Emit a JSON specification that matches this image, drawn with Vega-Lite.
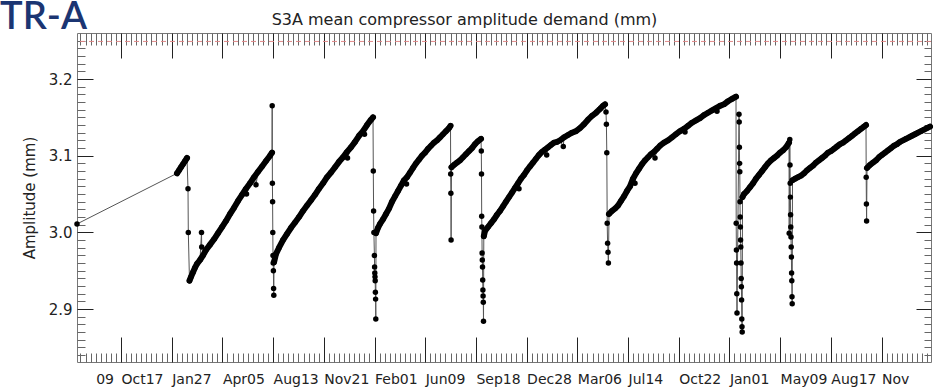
{
  "$schema": "https://vega.github.io/schema/vega-lite/v6.json",
  "width": 854,
  "height": 329,
  "autosize": {"type": "none"},
  "padding": {"left": 77, "top": 33, "right": 8, "bottom": 28},
  "background": "white",
  "config": {
    "view": {"stroke": "#777", "strokeWidth": 1},
    "axis": {"grid": false, "domain": false, "labelFont": "DejaVu Sans", "titleFont": "DejaVu Sans", "labelColor": "#222", "titleColor": "#222", "labelFontSize": 14, "titleFontSize": 15, "titleFontWeight": "normal"}
  },
  "data": {"values": [
    {"d":0,"v":3.011,"s":0,"k":0},
    {"d":100,"v":3.077,"s":0,"k":1},{"d":102,"v":3.081,"s":0,"k":1},{"d":104,"v":3.085,"s":0,"k":1},{"d":106,"v":3.089,"s":0,"k":1},{"d":108,"v":3.093,"s":0,"k":1},{"d":110,"v":3.097,"s":0,"k":1},
    {"d":111,"v":3.057,"s":0,"k":0},{"d":111.3,"v":3.0,"s":0,"k":0},
    {"d":112.5,"v":2.937,"s":1,"k":1},{"d":114,"v":2.942,"s":1,"k":1},{"d":116,"v":2.948,"s":1,"k":1},{"d":118,"v":2.954,"s":1,"k":1},{"d":120,"v":2.959,"s":1,"k":1},{"d":123,"v":2.964,"s":1,"k":1},
    {"d":124.5,"v":3.0,"s":1,"k":0},{"d":124.7,"v":2.981,"s":1,"k":0},
    {"d":126,"v":2.970,"s":1,"k":1},{"d":129,"v":2.977,"s":1,"k":1},{"d":133,"v":2.984,"s":1,"k":1},{"d":137,"v":2.991,"s":1,"k":1},{"d":141,"v":2.999,"s":1,"k":1},{"d":145,"v":3.007,"s":1,"k":1},{"d":149,"v":3.015,"s":1,"k":1},{"d":153,"v":3.024,"s":1,"k":1},{"d":157,"v":3.032,"s":1,"k":1},{"d":161,"v":3.041,"s":1,"k":1},{"d":165,"v":3.049,"s":1,"k":1},{"d":169,"v":3.057,"s":1,"k":1},
    {"d":169.5,"v":3.050,"s":1,"k":0},
    {"d":173,"v":3.064,"s":1,"k":1},{"d":177,"v":3.072,"s":1,"k":1},
    {"d":179,"v":3.062,"s":1,"k":0},
    {"d":181,"v":3.079,"s":1,"k":1},{"d":185,"v":3.086,"s":1,"k":1},{"d":189,"v":3.093,"s":1,"k":1},{"d":193,"v":3.100,"s":1,"k":1},{"d":195,"v":3.104,"s":1,"k":1},
    {"d":195.2,"v":3.165,"s":1,"k":0},{"d":195.4,"v":3.064,"s":1,"k":0},{"d":195.6,"v":3.040,"s":1,"k":0},{"d":195.8,"v":3.0,"s":1,"k":0},{"d":196.0,"v":2.970,"s":1,"k":0},{"d":196.2,"v":2.960,"s":1,"k":0},{"d":196.4,"v":2.950,"s":1,"k":0},{"d":196.6,"v":2.927,"s":1,"k":0},{"d":196.8,"v":2.918,"s":1,"k":0},
    {"d":197,"v":2.961,"s":2,"k":1},{"d":199,"v":2.972,"s":2,"k":1},{"d":202,"v":2.980,"s":2,"k":1},{"d":206,"v":2.990,"s":2,"k":1},{"d":210,"v":2.998,"s":2,"k":1},{"d":214,"v":3.006,"s":2,"k":1},{"d":218,"v":3.013,"s":2,"k":1},{"d":222,"v":3.020,"s":2,"k":1},{"d":226,"v":3.028,"s":2,"k":1},{"d":230,"v":3.035,"s":2,"k":1},{"d":234,"v":3.042,"s":2,"k":1},{"d":238,"v":3.049,"s":2,"k":1},{"d":242,"v":3.057,"s":2,"k":1},{"d":246,"v":3.064,"s":2,"k":1},{"d":250,"v":3.072,"s":2,"k":1},{"d":254,"v":3.078,"s":2,"k":1},{"d":258,"v":3.085,"s":2,"k":1},{"d":262,"v":3.092,"s":2,"k":1},{"d":266,"v":3.098,"s":2,"k":1},{"d":270,"v":3.105,"s":2,"k":1},
    {"d":270.5,"v":3.097,"s":2,"k":0},
    {"d":274,"v":3.111,"s":2,"k":1},{"d":278,"v":3.118,"s":2,"k":1},{"d":282,"v":3.126,"s":2,"k":1},{"d":286,"v":3.132,"s":2,"k":1},
    {"d":287.5,"v":3.128,"s":2,"k":0},
    {"d":290,"v":3.140,"s":2,"k":1},{"d":294,"v":3.147,"s":2,"k":1},{"d":296,"v":3.150,"s":2,"k":1},
    {"d":296.3,"v":3.080,"s":2,"k":0},{"d":296.6,"v":3.028,"s":2,"k":0},{"d":296.9,"v":3.0,"s":2,"k":0},{"d":297.4,"v":2.970,"s":2,"k":0},{"d":297.6,"v":2.955,"s":2,"k":0},{"d":297.8,"v":2.947,"s":2,"k":0},{"d":298.0,"v":2.942,"s":2,"k":0},{"d":298.2,"v":2.937,"s":2,"k":0},{"d":298.4,"v":2.922,"s":2,"k":0},{"d":298.6,"v":2.913,"s":2,"k":0},{"d":298.8,"v":2.887,"s":2,"k":0},
    {"d":299,"v":2.999,"s":3,"k":1},{"d":301,"v":3.006,"s":3,"k":1},{"d":303,"v":3.011,"s":3,"k":1},{"d":306,"v":3.017,"s":3,"k":1},{"d":309,"v":3.024,"s":3,"k":1},{"d":312,"v":3.031,"s":3,"k":1},{"d":315,"v":3.040,"s":3,"k":1},{"d":318,"v":3.047,"s":3,"k":1},{"d":321,"v":3.054,"s":3,"k":1},{"d":324,"v":3.061,"s":3,"k":1},{"d":327,"v":3.068,"s":3,"k":1},
    {"d":329.5,"v":3.063,"s":3,"k":0},
    {"d":330,"v":3.072,"s":3,"k":1},{"d":333,"v":3.078,"s":3,"k":1},{"d":336,"v":3.084,"s":3,"k":1},{"d":339,"v":3.090,"s":3,"k":1},{"d":342,"v":3.095,"s":3,"k":1},{"d":345,"v":3.100,"s":3,"k":1},{"d":348,"v":3.104,"s":3,"k":1},{"d":351,"v":3.109,"s":3,"k":1},{"d":354,"v":3.113,"s":3,"k":1},{"d":357,"v":3.117,"s":3,"k":1},{"d":360,"v":3.120,"s":3,"k":1},{"d":363,"v":3.124,"s":3,"k":1},{"d":366,"v":3.128,"s":3,"k":1},{"d":369,"v":3.132,"s":3,"k":1},{"d":372,"v":3.136,"s":3,"k":1},{"d":373.5,"v":3.139,"s":3,"k":1},
    {"d":373.7,"v":3.076,"s":3,"k":0},{"d":373.9,"v":3.051,"s":3,"k":0},{"d":374.1,"v":2.990,"s":3,"k":0},
    {"d":374.5,"v":3.085,"s":4,"k":1},{"d":377,"v":3.088,"s":4,"k":1},{"d":380,"v":3.091,"s":4,"k":1},{"d":383,"v":3.094,"s":4,"k":1},{"d":386,"v":3.098,"s":4,"k":1},{"d":389,"v":3.102,"s":4,"k":1},{"d":392,"v":3.106,"s":4,"k":1},{"d":395,"v":3.110,"s":4,"k":1},{"d":398,"v":3.115,"s":4,"k":1},{"d":401,"v":3.119,"s":4,"k":1},{"d":404,"v":3.122,"s":4,"k":1},
    {"d":404.3,"v":3.106,"s":4,"k":0},{"d":404.5,"v":3.076,"s":4,"k":0},{"d":404.7,"v":3.021,"s":4,"k":0},{"d":404.9,"v":3.007,"s":4,"k":0},{"d":405.1,"v":2.973,"s":4,"k":0},{"d":405.3,"v":2.964,"s":4,"k":0},{"d":405.5,"v":2.955,"s":4,"k":0},{"d":405.7,"v":2.938,"s":4,"k":0},{"d":405.9,"v":2.925,"s":4,"k":0},{"d":406.1,"v":2.917,"s":4,"k":0},{"d":406.3,"v":2.909,"s":4,"k":0},{"d":406.5,"v":2.884,"s":4,"k":0},
    {"d":406.8,"v":2.995,"s":5,"k":1},{"d":408,"v":3.002,"s":5,"k":1},{"d":411,"v":3.007,"s":5,"k":1},{"d":414,"v":3.012,"s":5,"k":1},{"d":417,"v":3.017,"s":5,"k":1},{"d":420,"v":3.023,"s":5,"k":1},{"d":423,"v":3.028,"s":5,"k":1},{"d":426,"v":3.034,"s":5,"k":1},{"d":429,"v":3.040,"s":5,"k":1},{"d":432,"v":3.046,"s":5,"k":1},{"d":435,"v":3.052,"s":5,"k":1},{"d":438,"v":3.058,"s":5,"k":1},{"d":441,"v":3.064,"s":5,"k":1},
    {"d":442,"v":3.057,"s":5,"k":0},
    {"d":444,"v":3.070,"s":5,"k":1},{"d":447,"v":3.075,"s":5,"k":1},{"d":450,"v":3.081,"s":5,"k":1},{"d":453,"v":3.086,"s":5,"k":1},{"d":456,"v":3.091,"s":5,"k":1},{"d":459,"v":3.096,"s":5,"k":1},{"d":462,"v":3.101,"s":5,"k":1},{"d":465,"v":3.105,"s":5,"k":1},{"d":468,"v":3.108,"s":5,"k":1},
    {"d":469.7,"v":3.101,"s":5,"k":0},
    {"d":471,"v":3.111,"s":5,"k":1},{"d":474,"v":3.114,"s":5,"k":1},{"d":477,"v":3.117,"s":5,"k":1},{"d":480,"v":3.118,"s":5,"k":1},{"d":483,"v":3.120,"s":5,"k":1},
    {"d":486.3,"v":3.112,"s":5,"k":0},
    {"d":487,"v":3.124,"s":5,"k":1},{"d":491,"v":3.127,"s":5,"k":1},{"d":495,"v":3.130,"s":5,"k":1},{"d":499,"v":3.132,"s":5,"k":1},{"d":503,"v":3.136,"s":5,"k":1},{"d":507,"v":3.141,"s":5,"k":1},{"d":511,"v":3.147,"s":5,"k":1},{"d":515,"v":3.152,"s":5,"k":1},{"d":519,"v":3.156,"s":5,"k":1},{"d":523,"v":3.161,"s":5,"k":1},{"d":526,"v":3.165,"s":5,"k":1},{"d":528,"v":3.167,"s":5,"k":1},
    {"d":529,"v":3.157,"s":5,"k":0},{"d":529.4,"v":3.141,"s":5,"k":0},{"d":529.8,"v":3.104,"s":5,"k":0},{"d":530.2,"v":3.012,"s":5,"k":0},{"d":530.6,"v":2.986,"s":5,"k":0},{"d":531,"v":2.974,"s":5,"k":0},{"d":531.4,"v":2.960,"s":5,"k":0},
    {"d":532,"v":3.024,"s":6,"k":1},{"d":535,"v":3.028,"s":6,"k":1},{"d":538,"v":3.031,"s":6,"k":1},{"d":541,"v":3.035,"s":6,"k":1},{"d":544,"v":3.041,"s":6,"k":1},{"d":547,"v":3.047,"s":6,"k":1},{"d":550,"v":3.054,"s":6,"k":1},{"d":553,"v":3.060,"s":6,"k":1},{"d":556,"v":3.070,"s":6,"k":1},
    {"d":558,"v":3.064,"s":6,"k":0},
    {"d":559,"v":3.077,"s":6,"k":1},{"d":562,"v":3.083,"s":6,"k":1},{"d":565,"v":3.089,"s":6,"k":1},{"d":568,"v":3.094,"s":6,"k":1},{"d":571,"v":3.098,"s":6,"k":1},{"d":574,"v":3.102,"s":6,"k":1},{"d":577,"v":3.105,"s":6,"k":1},
    {"d":578,"v":3.097,"s":6,"k":0},
    {"d":580,"v":3.109,"s":6,"k":1},{"d":583,"v":3.113,"s":6,"k":1},{"d":587,"v":3.117,"s":6,"k":1},{"d":591,"v":3.120,"s":6,"k":1},{"d":595,"v":3.124,"s":6,"k":1},{"d":599,"v":3.128,"s":6,"k":1},{"d":603,"v":3.132,"s":6,"k":1},{"d":607,"v":3.135,"s":6,"k":1},
    {"d":608,"v":3.131,"s":6,"k":0},
    {"d":611,"v":3.139,"s":6,"k":1},{"d":615,"v":3.143,"s":6,"k":1},{"d":619,"v":3.146,"s":6,"k":1},{"d":623,"v":3.149,"s":6,"k":1},{"d":627,"v":3.153,"s":6,"k":1},{"d":631,"v":3.156,"s":6,"k":1},{"d":635,"v":3.159,"s":6,"k":1},{"d":639,"v":3.162,"s":6,"k":1},
    {"d":640,"v":3.158,"s":6,"k":0},
    {"d":643,"v":3.165,"s":6,"k":1},{"d":647,"v":3.167,"s":6,"k":1},{"d":651,"v":3.171,"s":6,"k":1},{"d":655,"v":3.174,"s":6,"k":1},{"d":659,"v":3.177,"s":6,"k":1},
    {"d":659.2,"v":3.012,"s":6,"k":0},{"d":659.4,"v":2.977,"s":6,"k":0},{"d":659.6,"v":2.960,"s":6,"k":0},{"d":659.8,"v":2.920,"s":6,"k":0},{"d":660,"v":2.895,"s":6,"k":0},
    {"d":662,"v":3.154,"s":6,"k":0},{"d":662.2,"v":3.144,"s":6,"k":0},{"d":662.4,"v":3.111,"s":6,"k":0},{"d":662.6,"v":3.090,"s":6,"k":0},{"d":662.8,"v":3.079,"s":6,"k":0},{"d":663,"v":3.040,"s":6,"k":0},{"d":663.2,"v":3.020,"s":6,"k":0},{"d":663.4,"v":3.007,"s":6,"k":0},{"d":663.6,"v":2.990,"s":6,"k":0},{"d":663.8,"v":2.981,"s":6,"k":0},{"d":664,"v":2.960,"s":6,"k":0},{"d":664.2,"v":2.940,"s":6,"k":0},{"d":664.4,"v":2.929,"s":6,"k":0},{"d":664.6,"v":2.912,"s":6,"k":0},{"d":664.8,"v":2.887,"s":6,"k":0},{"d":665,"v":2.877,"s":6,"k":0},{"d":665.2,"v":2.870,"s":6,"k":0},
    {"d":665.5,"v":3.046,"s":7,"k":1},{"d":667,"v":3.050,"s":7,"k":1},{"d":670,"v":3.054,"s":7,"k":1},{"d":673,"v":3.059,"s":7,"k":1},{"d":676,"v":3.064,"s":7,"k":1},{"d":679,"v":3.070,"s":7,"k":1},{"d":682,"v":3.075,"s":7,"k":1},{"d":685,"v":3.080,"s":7,"k":1},{"d":688,"v":3.085,"s":7,"k":1},{"d":691,"v":3.090,"s":7,"k":1},{"d":694,"v":3.094,"s":7,"k":1},{"d":697,"v":3.097,"s":7,"k":1},{"d":700,"v":3.100,"s":7,"k":1},{"d":703,"v":3.104,"s":7,"k":1},{"d":706,"v":3.107,"s":7,"k":1},{"d":709,"v":3.111,"s":7,"k":1},{"d":712,"v":3.117,"s":7,"k":1},
    {"d":712.2,"v":2.999,"s":7,"k":0},{"d":712.8,"v":3.121,"s":7,"k":0},{"d":713,"v":3.088,"s":7,"k":0},{"d":713.2,"v":3.064,"s":7,"k":0},{"d":713.4,"v":3.046,"s":7,"k":0},{"d":713.6,"v":3.023,"s":7,"k":0},{"d":713.8,"v":3.007,"s":7,"k":0},{"d":714,"v":2.994,"s":7,"k":0},{"d":714.2,"v":2.981,"s":7,"k":0},{"d":714.4,"v":2.968,"s":7,"k":0},{"d":714.6,"v":2.947,"s":7,"k":0},{"d":714.8,"v":2.937,"s":7,"k":0},{"d":715,"v":2.916,"s":7,"k":0},{"d":715.2,"v":2.907,"s":7,"k":0},
    {"d":715.5,"v":3.068,"s":8,"k":1},{"d":718,"v":3.070,"s":8,"k":1},{"d":721,"v":3.072,"s":8,"k":1},{"d":724,"v":3.074,"s":8,"k":1},{"d":727,"v":3.077,"s":8,"k":1},{"d":730,"v":3.081,"s":8,"k":1},{"d":733,"v":3.084,"s":8,"k":1},{"d":736,"v":3.087,"s":8,"k":1},{"d":739,"v":3.091,"s":8,"k":1},{"d":742,"v":3.094,"s":8,"k":1},{"d":745,"v":3.097,"s":8,"k":1},{"d":748,"v":3.100,"s":8,"k":1},{"d":751,"v":3.104,"s":8,"k":1},{"d":754,"v":3.106,"s":8,"k":1},{"d":757,"v":3.109,"s":8,"k":1},{"d":760,"v":3.112,"s":8,"k":1},{"d":763,"v":3.115,"s":8,"k":1},{"d":766,"v":3.117,"s":8,"k":1},{"d":769,"v":3.120,"s":8,"k":1},{"d":772,"v":3.123,"s":8,"k":1},{"d":775,"v":3.126,"s":8,"k":1},{"d":778,"v":3.129,"s":8,"k":1},{"d":781,"v":3.132,"s":8,"k":1},{"d":784,"v":3.135,"s":8,"k":1},{"d":787,"v":3.138,"s":8,"k":1},{"d":789,"v":3.140,"s":8,"k":1},
    {"d":789.2,"v":3.072,"s":8,"k":0},{"d":789.4,"v":3.037,"s":8,"k":0},{"d":789.6,"v":3.015,"s":8,"k":0},
    {"d":790,"v":3.084,"s":9,"k":1},{"d":793,"v":3.088,"s":9,"k":1},{"d":796,"v":3.091,"s":9,"k":1},{"d":799,"v":3.094,"s":9,"k":1},{"d":802,"v":3.098,"s":9,"k":1},{"d":805,"v":3.101,"s":9,"k":1},{"d":808,"v":3.104,"s":9,"k":1},{"d":811,"v":3.107,"s":9,"k":1},{"d":814,"v":3.110,"s":9,"k":1},{"d":817,"v":3.113,"s":9,"k":1},{"d":820,"v":3.115,"s":9,"k":1},{"d":823,"v":3.118,"s":9,"k":1},{"d":826,"v":3.120,"s":9,"k":1},{"d":829,"v":3.122,"s":9,"k":1},{"d":832,"v":3.124,"s":9,"k":1},{"d":835,"v":3.126,"s":9,"k":1},{"d":838,"v":3.128,"s":9,"k":1},{"d":841,"v":3.130,"s":9,"k":1},{"d":844,"v":3.132,"s":9,"k":1},{"d":847,"v":3.134,"s":9,"k":1},{"d":850,"v":3.136,"s":9,"k":1},{"d":853,"v":3.138,"s":9,"k":1}
  ]},
  "layer": [
    {
      "mark": {"type": "line", "strokeWidth": 1, "color": "#555"},
      "encoding": {
        "x": {"field": "d", "type": "quantitative", "scale": {"domain": [0, 854], "nice": false, "zero": false},
          "axis": {"orient": "bottom", "values": [18.65, 44, 94.7, 145.4, 196.1, 246.8, 297.5, 348.2, 398.9, 449.6, 500.3, 551.0, 601.7, 652.4, 703.1, 753.8, 804.5], "ticks": false, "labelAlign": "left", "labelPadding": 10, "labelOverlap": false, "labelFlush": false, "labelBound": false, "title": null,
            "labelExpr": "datum.value < 30 ? '09' : ['Oct17','Jan27','Apr05','Aug13','Nov21','Feb01','Jun09','Sep18','Dec28','Mar06','Jul14','Oct22','Jan01','May09','Aug17','Nov'][round((datum.value - 44) / 50.7)]"}},
        "y": {"field": "v", "type": "quantitative", "scale": {"domain": [2.831, 3.26], "nice": false, "zero": false},
          "axis": {"orient": "left", "values": [2.9, 3.0, 3.1, 3.2], "ticks": false, "labelPadding": 5, "labelFontSize": 15, "format": ".1f", "title": "Amplitude (mm)", "titlePadding": 11}}
      }
    },
    {
      "transform": [{"filter": "datum.k == 1"}],
      "mark": {"type": "line", "strokeWidth": 6, "color": "black", "strokeCap": "round", "strokeJoin": "round"},
      "encoding": {
        "detail": {"field": "s", "type": "nominal"},
        "x": {"field": "d", "type": "quantitative", "scale": {"domain": [0, 854], "nice": false, "zero": false},
          "axis": {"orient": "bottom", "values": {"expr": "sequence(3.44, 855, 5.07)"}, "labels": false, "title": null,
            "tickSize": {"condition": {"test": "abs((datum.value - 44) / 50.7 - round((datum.value - 44) / 50.7)) < 0.01", "value": -25}, "value": -9},
            "tickColor": {"condition": {"test": "abs((datum.value - 44) / 50.7 - round((datum.value - 44) / 50.7)) < 0.01", "value": "#222"}, "value": "#666"}}},
        "y": {"field": "v", "type": "quantitative", "scale": {"domain": [2.831, 3.26], "nice": false, "zero": false},
          "axis": {"orient": "left", "values": {"expr": "sequence(2.84, 3.255, 0.01)"}, "labels": false, "title": null,
            "tickSize": {"condition": {"test": "abs(datum.value * 10 - round(datum.value * 10)) < 0.01", "value": -16}, "value": -8},
            "tickColor": {"condition": {"test": "abs(datum.value * 10 - round(datum.value * 10)) < 0.01", "value": "#222"}, "value": "#666"}}}
      }
    },
    {
      "mark": {"type": "circle", "size": 30, "color": "black", "opacity": 1},
      "encoding": {
        "x": {"field": "d", "type": "quantitative", "scale": {"domain": [0, 854], "nice": false, "zero": false},
          "axis": {"orient": "top", "values": {"expr": "sequence(3.44, 855, 5.07)"}, "labels": false, "title": null,
            "tickSize": {"condition": {"test": "abs((datum.value - 44) / 50.7 - round((datum.value - 44) / 50.7)) < 0.01", "value": -25}, "value": -12},
            "tickColor": {"condition": {"test": "abs((datum.value - 44) / 50.7 - round((datum.value - 44) / 50.7)) < 0.01", "value": "#222"}, "value": "#666"}}},
        "y": {"field": "v", "type": "quantitative", "scale": {"domain": [2.831, 3.26], "nice": false, "zero": false},
          "axis": {"orient": "right", "values": {"expr": "sequence(2.84, 3.255, 0.01)"}, "labels": false, "title": null,
            "tickSize": {"condition": {"test": "abs(datum.value * 10 - round(datum.value * 10)) < 0.01", "value": -15}, "value": -7},
            "tickColor": {"condition": {"test": "abs(datum.value * 10 - round(datum.value * 10)) < 0.01", "value": "#222"}, "value": "#666"}}}
      }
    },
    {
      "data": {"values": [{}]},
      "mark": {"type": "rule", "color": "#e08888", "strokeWidth": 1, "strokeDash": [5, 4]},
      "encoding": {
        "y": {"datum": 3.249, "type": "quantitative", "scale": {"domain": [2.831, 3.26], "nice": false, "zero": false}, "axis": null}
      }
    },
    {
      "data": {"values": [{"t": "S3A mean compressor amplitude demand (mm)"}]},
      "mark": {"type": "text", "font": "DejaVu Sans", "fontSize": 16, "color": "#222", "align": "center", "baseline": "alphabetic"},
      "encoding": {
        "text": {"field": "t"},
        "x": {"datum": 387.5, "type": "quantitative", "scale": {"domain": [0, 854], "nice": false, "zero": false}, "axis": null},
        "y": {"datum": 3.2704, "type": "quantitative", "scale": {"domain": [2.831, 3.26], "nice": false, "zero": false}, "axis": null}
      }
    },
    {
      "data": {"values": [{"t": "TR-A"}]},
      "mark": {"type": "text", "font": "Lato", "fontSize": 38, "fontWeight": 600, "color": "#1b3572", "align": "left", "baseline": "alphabetic"},
      "encoding": {
        "text": {"field": "t"},
        "x": {"datum": -77, "type": "quantitative", "scale": {"domain": [0, 854], "nice": false, "zero": false}, "axis": null},
        "y": {"datum": 3.2652, "type": "quantitative", "scale": {"domain": [2.831, 3.26], "nice": false, "zero": false}, "axis": null}
      }
    }
  ],
  "resolve": {"axis": {"x": "independent", "y": "independent"}}
}
